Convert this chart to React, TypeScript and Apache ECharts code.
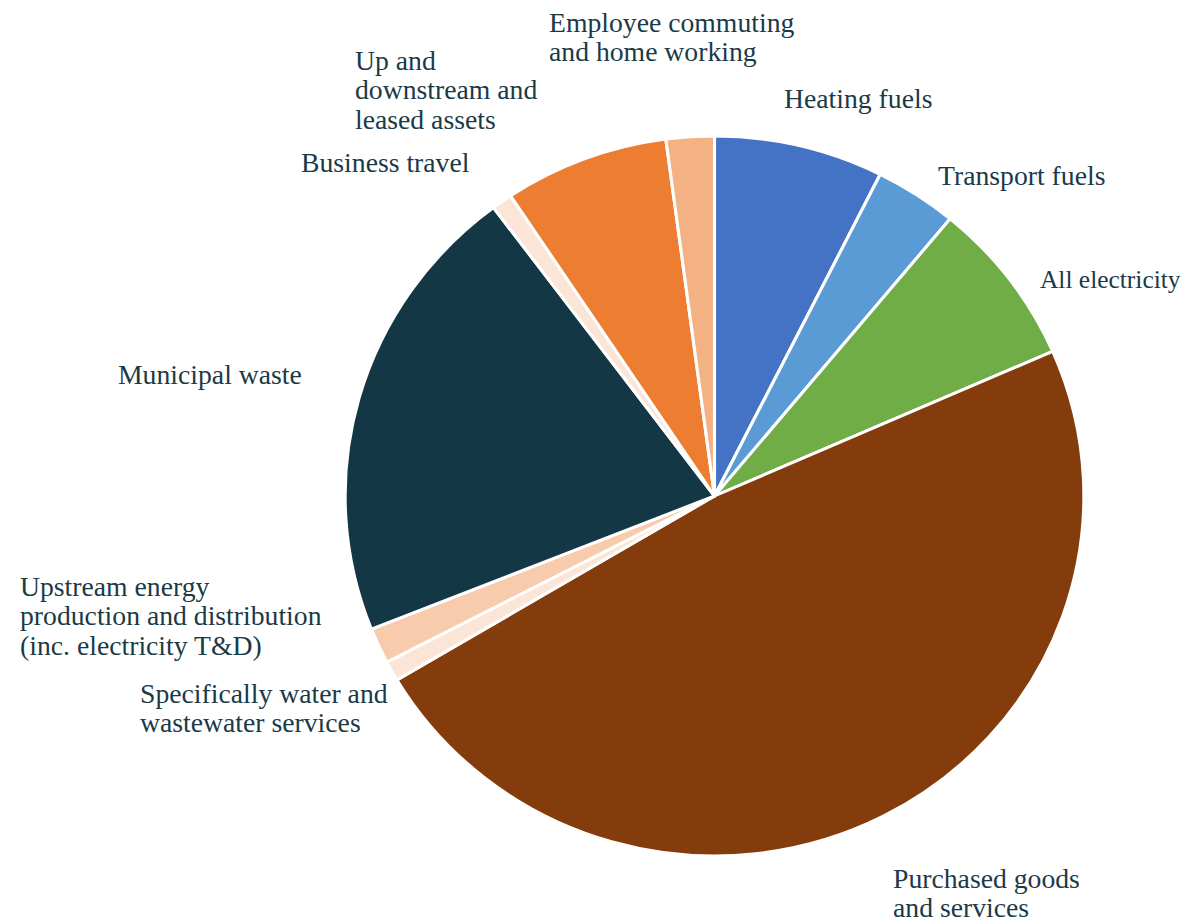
import React, { useEffect, useRef } from "react";
import * as echarts from "echarts";

// Emission sources, clockwise from 12 o'clock
const categories = [
  "Heating fuels",
  "Transport fuels",
  "All electricity",
  "Purchased goods and services",
  "Specifically water and wastewater services",
  "Upstream energy production and distribution (inc. electricity T&D)",
  "Municipal waste",
  "Business travel",
  "Up and downstream and leased assets",
  "Employee commuting and home working",
];

// Share of total emissions (%)
const shares = [7.4, 3.6, 7.4, 48.0, 0.9, 1.6, 20.8, 0.9, 7.2, 2.1];

// Label text as it wraps beside the pie
const labelText = [
  "Heating fuels",
  "Transport fuels",
  "All electricity",
  "Purchased goods\nand services",
  "Specifically water and\nwastewater services",
  "Upstream energy\nproduction and distribution\n(inc. electricity T&D)",
  "Municipal waste",
  "Business travel",
  "Up and\ndownstream and\nleased assets",
  "Employee commuting\nand home working",
];

const colors = [
  "#4472C4",
  "#5B9BD5",
  "#70AD47",
  "#843C0C",
  "#FBE5D6",
  "#F8CBAD",
  "#133745",
  "#FBE5D6",
  "#ED7D31",
  "#F4B183",
];

// The figure is drawn slightly wider than tall
const STRETCH_X = 1.026;
const WIDTH = 1189;
const HEIGHT = 924;

// Top-left anchor of each label block, in page pixels
const labelAnchors: [number, number][] = [
  [784, 84],
  [938, 161],
  [1040, 265],
  [893, 864],
  [140, 679],
  [20, 572],
  [118, 360],
  [301, 148],
  [355, 46],
  [549, 8],
];

const FONT = "'Liberation Serif', serif";
const FONT_SIZE = 27;
// the label at the right edge is set a little smaller so it fits the page
const EDGE_LABEL_SIZE = 24.8;

export default function App() {
  const ref = useRef<HTMLDivElement>(null);

  useEffect(() => {
    if (!ref.current) return;
    const chart = echarts.init(ref.current, null, { renderer: "svg" });
    chart.setOption({
      animation: false,
      backgroundColor: "#ffffff",
      textStyle: { fontFamily: FONT },
      series: [
        {
          type: "pie",
          center: [714.5 / STRETCH_X, 496],
          radius: 360,
          startAngle: 90,
          clockwise: true,
          avoidLabelOverlap: false,
          itemStyle: { borderColor: "#ffffff", borderWidth: 3 },
          label: {
            show: true,
            position: "outside",
            color: "#1B3A47",
            fontFamily: FONT,
            fontSize: FONT_SIZE,
            lineHeight: 29.5,
            align: "left",
            formatter: (p: any) => labelText[p.dataIndex],
          },
          labelLine: { show: false },
          labelLayout: (p: any) => {
            const [x, y] = labelAnchors[p.dataIndex];
            return { x: x / STRETCH_X, y, align: "left", verticalAlign: "top" };
          },
          data: categories.map((name, i) => ({
            name,
            value: shares[i],
            itemStyle: { color: colors[i] },
            ...(i === 2 ? { label: { fontSize: EDGE_LABEL_SIZE } } : {}),
          })),
        },
      ],
    });
    return () => chart.dispose();
  }, []);

  return (
    <div
      style={{
        position: "fixed",
        left: 0,
        top: 0,
        width: WIDTH,
        height: HEIGHT,
        overflow: "hidden",
        background: "#ffffff",
      }}
    >
      <div
        ref={ref}
        style={{
          width: WIDTH / STRETCH_X,
          height: HEIGHT,
          transform: `scaleX(${STRETCH_X})`,
          transformOrigin: "0 0",
        }}
      />
    </div>
  );
}
